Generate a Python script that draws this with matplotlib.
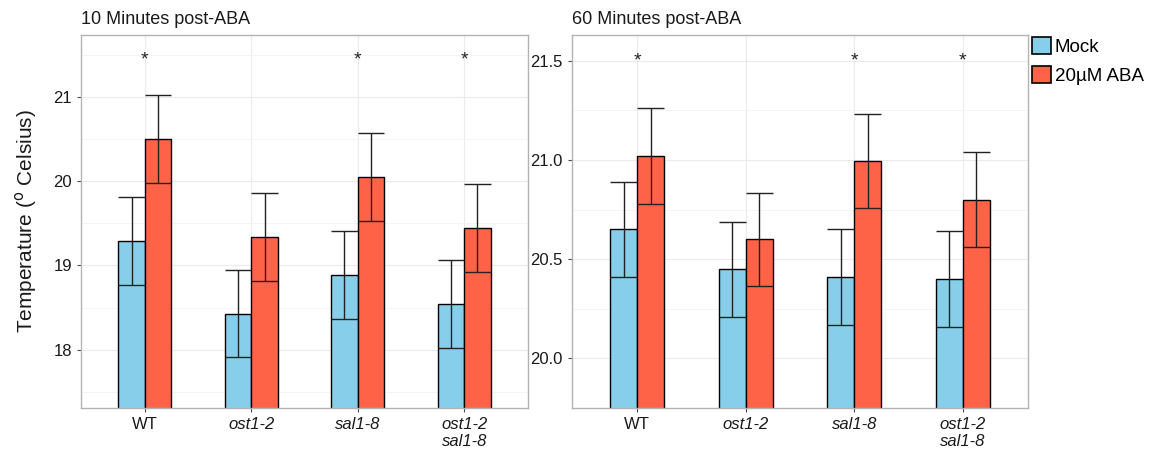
import matplotlib.pyplot as plt
import numpy as np
from matplotlib.patches import Patch

genotypes = ["WT", "ost1-2", "sal1-8", "ost1-2\nsal1-8"]
italic = [False, True, True, True]

# 10 minutes after treatment
mock_10 = [19.29, 18.43, 18.89, 18.54]
mock_10_se = [0.52, 0.52, 0.52, 0.52]
aba_10 = [20.50, 19.34, 20.05, 19.44]
aba_10_se = [0.52, 0.52, 0.52, 0.52]
star_10 = [True, False, True, True]

# 60 minutes after treatment
mock_60 = [20.65, 20.45, 20.41, 20.40]
mock_60_se = [0.24, 0.24, 0.24, 0.24]
aba_60 = [21.02, 20.60, 20.995, 20.80]
aba_60_se = [0.24, 0.235, 0.235, 0.24]
star_60 = [True, False, True, True]

plt.rcParams['font.family'] = ['Liberation Sans', 'DejaVu Sans']

MOCK = "#87CEEB"
ABA = "#FF6347"
W = 0.25


def panel(ax, mock, mock_se, aba, aba_se, stars, star_y, ylim, yticks, minor, fmt, title):
    x = np.arange(1, len(genotypes) + 1)
    for xs, vals, se, col in [(x - W / 2, mock, mock_se, MOCK), (x + W / 2, aba, aba_se, ABA)]:
        vals = np.array(vals)
        se = np.array(se)
        ax.bar(xs, vals - ylim[0] + 5, width=W, bottom=ylim[0] - 5, color=col,
               edgecolor="black", linewidth=1.0, zorder=2)
        ax.vlines(xs, vals - se, vals + se, color="#222222", linewidth=1.0, zorder=3)
        ax.hlines(vals + se, xs - W / 2, xs + W / 2, color="#222222", linewidth=1.0, zorder=3)
        ax.hlines(vals - se, xs - W / 2, xs + W / 2, color="#222222", linewidth=1.0, zorder=3)
    for xi, s in zip(x, stars):
        if s:
            ax.text(xi, star_y, "*", ha="center", va="center", fontsize=14, color="#222222")
    ax.set_xlim(0.4, len(genotypes) + 0.6)
    ax.set_ylim(*ylim)
    ax.set_yticks(yticks)
    ax.set_yticklabels([fmt.format(t) for t in yticks])
    ax.set_yticks(minor, minor=True)
    ax.set_xticks(x)
    ax.set_xticklabels(genotypes)
    for lab, it in zip(ax.get_xticklabels(), italic):
        if it:
            lab.set_style("italic")
    ax.tick_params(axis="both", which="major", labelsize=12, colors="#4d4d4d",
                   labelcolor="#1a1a1a", length=3, width=0.8)
    ax.tick_params(axis="y", which="minor", length=0)
    ax.grid(True, which="major", color="#EBEBEB", linewidth=0.8, zorder=0)
    ax.grid(True, which="minor", axis="y", color="#F3F3F3", linewidth=0.6, zorder=0)
    ax.set_axisbelow(True)
    for sp in ax.spines.values():
        sp.set_color("#B3B3B3")
        sp.set_linewidth(1.0)
    ax.set_title(title, loc="left", fontsize=13, pad=8, color="#1a1a1a")


fig = plt.figure(figsize=(11.59, 4.57), dpi=100)
ax1 = fig.add_axes([0.0699, 0.1072, 0.3857, 0.816])
ax2 = fig.add_axes([0.4935, 0.1072, 0.3934, 0.816])

panel(ax1, mock_10, mock_10_se, aba_10, aba_10_se, star_10, 21.44,
      (17.31, 21.73), [18, 19, 20, 21], [17.5, 18.5, 19.5, 20.5, 21.5], "{:.0f}",
      "10 Minutes post-ABA")
panel(ax2, mock_60, mock_60_se, aba_60, aba_60_se, star_60, 21.50,
      (19.81, 21.63), [20.0, 20.5, 21.0, 21.5], [19.75, 20.25, 20.75, 21.25], "{:.1f}",
      "60 Minutes post-ABA")

ax1.set_ylabel("Temperature ($^{\\mathrm{o}}$ Celsius)", fontsize=15, color="#1a1a1a", labelpad=10)

handles = [Patch(facecolor=MOCK, edgecolor="black", linewidth=1.2, label="Mock"),
           Patch(facecolor=ABA, edgecolor="black", linewidth=1.2, label="20µM ABA")]
fig.legend(handles=handles, loc="upper left", bbox_to_anchor=(0.890, 0.92), frameon=False,
           fontsize=13.5, handlelength=1.05, handleheight=1.05, handletextpad=0.2,
           borderpad=0.0, borderaxespad=0.0, labelspacing=0.55)

fig.savefig("out.png", dpi=100)
